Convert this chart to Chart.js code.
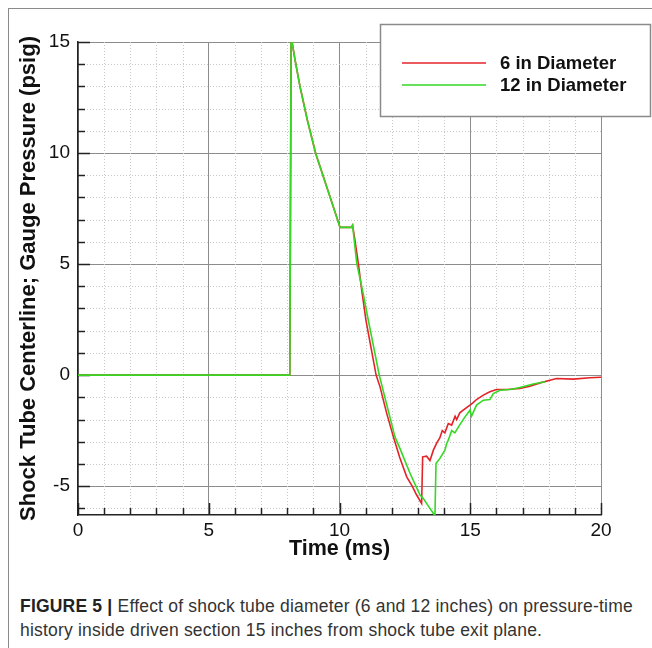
<!DOCTYPE html>
<html>
<head>
<meta charset="utf-8">
<script src="https://cdn.jsdelivr.net/npm/chart.js@4.4.1/dist/chart.umd.min.js"></script>
<style>
  html, body { margin: 0; padding: 0; background: #fff; }
  body { width: 652px; height: 648px; position: relative; overflow: hidden; }
  .frame { position: absolute; left: 8px; top: 8px; right: -4px; bottom: -4px; border-left: 1.5px solid #8a8a8a; border-top: 1.5px solid #8a8a8a; }
  .chart { position: absolute; left: 0; top: 0; width: 652px; height: 565px; }
  .caption { position: absolute; left: 20px; top: 594px; width: 632px; font: 17.5px "Liberation Sans", Arial, sans-serif; letter-spacing: 0.2px; line-height: 24px; color: #333; }
  .caption b { color: #222; }
</style>
</head>
<body>
<div class="frame"></div>
<div class="chart"><canvas id="pressure-chart"></canvas></div>
<div class="caption"><b>FIGURE 5 |</b> Effect of shock tube diameter (6 and 12 inches) on pressure-time history inside driven section 15 inches from shock tube exit plane.</div>
<script>
const seriesLabels = ["6 in Diameter", "12 in Diameter"];
const seriesColors = ["#e42328", "#33d923"];

// 6 in diameter (ms, psig)
const time6 = [0, 8.1, 8.15, 8.3, 8.49, 8.77, 9.09, 9.51, 9.93, 10.02, 10.45, 10.5, 10.59, 10.72, 10.85, 11.01,
  11.4, 11.55, 11.8, 12.06, 12.3, 12.57, 12.78, 12.95, 13.14, 13.18, 13.33, 13.46, 13.59, 13.72, 13.84, 13.93,
  14.03, 14.16, 14.29, 14.42, 14.48, 14.6, 14.73, 14.99, 15.1, 15.24, 15.5, 15.75, 16.0, 16.39, 16.9, 17.28,
  17.67, 18.05, 18.3, 18.94, 19.58, 20];
const pressure6 = [0, 0, 15.25, 14.2, 12.99, 11.49, 9.98, 8.48, 6.98, 6.65, 6.65, 6.75, 6.08, 5.03, 3.83, 2.48,
  0, -0.53, -1.7, -2.78, -3.7, -4.58, -5.0, -5.4, -5.78, -3.68, -3.65, -3.85, -3.38, -3.05, -2.82, -2.5,
  -2.6, -2.18, -2.25, -1.85, -2.0, -1.7, -1.58, -1.35, -1.25, -1.1, -0.9, -0.75, -0.65, -0.65, -0.6, -0.5,
  -0.35, -0.23, -0.15, -0.18, -0.12, -0.1];

// 12 in diameter (ms, psig)
const time12 = [0, 8.1, 8.15, 8.3, 8.49, 8.77, 9.09, 9.51, 9.93, 10.02, 10.45, 10.5, 10.66, 10.9, 11.1, 11.52,
  11.8, 12.12, 12.31, 12.7, 13.08, 13.2, 13.4, 13.59, 13.65, 13.69, 13.84, 14.03, 14.1, 14.16, 14.29, 14.41,
  14.61, 14.8, 14.99, 15.05, 15.24, 15.5, 15.75, 15.88, 16.14, 16.52, 16.9, 17.41, 17.86];
const pressure12 = [0, 0, 15.25, 14.2, 12.99, 11.49, 9.98, 8.48, 6.98, 6.65, 6.65, 6.75, 5.03, 3.7, 2.48, 0,
  -1.3, -2.78, -3.3, -4.43, -5.4, -5.55, -5.9, -6.23, -6.35, -3.98, -3.75, -3.38, -3.08, -2.93, -2.5, -2.6,
  -2.22, -1.88, -1.58, -1.85, -1.35, -1.13, -1.1, -0.83, -0.68, -0.65, -0.56, -0.4, -0.3];

const xTicks = [0, 5, 10, 15, 20];
const yTicks = [-5, 0, 5, 10, 15];

const FONT = '"Liberation Sans", Arial, sans-serif';

const toPoints = (xs, ys) => xs.map((x, i) => ({ x: x, y: ys[i] }));

// dotted minor grid + inward tick marks every 1 unit
const minorGrid = {
  id: "minorGrid",
  beforeDatasetsDraw(chart) {
    const { ctx, chartArea, scales } = chart;
    ctx.save();
    ctx.strokeStyle = "#c8c8c8";
    ctx.lineWidth = 1;
    ctx.setLineDash([1, 2]);
    for (let v = Math.ceil(scales.x.min); v <= scales.x.max; v++) {
      if (v % 5 === 0) continue;
      const px = Math.round(scales.x.getPixelForValue(v)) + 0.5;
      ctx.beginPath();
      ctx.moveTo(px, chartArea.top);
      ctx.lineTo(px, chartArea.bottom);
      ctx.stroke();
    }
    for (let v = Math.ceil(scales.y.min); v <= scales.y.max; v++) {
      if (v % 5 === 0) continue;
      const py = Math.round(scales.y.getPixelForValue(v)) + 0.5;
      ctx.beginPath();
      ctx.moveTo(chartArea.left, py);
      ctx.lineTo(chartArea.right, py);
      ctx.stroke();
    }
    ctx.setLineDash([]);
    ctx.strokeStyle = "#222";
    ctx.lineWidth = 1.5;
    for (let v = Math.ceil(scales.x.min); v <= scales.x.max; v++) {
      const px = Math.round(scales.x.getPixelForValue(v)) + 0.5;
      const len = v % 5 === 0 ? 12 : 7;
      ctx.beginPath();
      ctx.moveTo(px, chartArea.bottom);
      ctx.lineTo(px, chartArea.bottom - len);
      ctx.stroke();
    }
    for (let v = Math.ceil(scales.y.min); v <= scales.y.max; v++) {
      const py = Math.round(scales.y.getPixelForValue(v)) + 0.5;
      const len = v % 5 === 0 ? 12 : 7;
      ctx.beginPath();
      ctx.moveTo(chartArea.left, py);
      ctx.lineTo(chartArea.left + len, py);
      ctx.stroke();
    }
    ctx.restore();
  },
};

// boxed legend sitting in the top right corner
const boxLegend = {
  id: "boxLegend",
  afterDraw(chart) {
    const { ctx } = chart;
    const box = { x: 380.5, y: 24.5, w: 270, h: 92 };
    ctx.save();
    ctx.fillStyle = "#fff";
    ctx.fillRect(box.x, box.y, box.w, box.h);
    ctx.strokeStyle = "#8a8a8a";
    ctx.lineWidth = 1.5;
    ctx.strokeRect(box.x, box.y, box.w, box.h);
    ctx.font = "bold 18.5px " + FONT;
    ctx.textBaseline = "middle";
    chart.data.datasets.forEach((ds, i) => {
      const y = 63 + i * 22;
      ctx.strokeStyle = ds.borderColor;
      ctx.lineWidth = 1.5;
      ctx.beginPath();
      ctx.moveTo(402, y);
      ctx.lineTo(486, y);
      ctx.stroke();
      ctx.fillStyle = "#111";
      ctx.fillText(ds.label, 500, y + 1);
    });
    ctx.restore();
  },
};

new Chart(document.getElementById("pressure-chart"), {
  type: "line",
  data: {
    datasets: [
      {
        label: seriesLabels[0],
        data: toPoints(time6, pressure6),
        borderColor: seriesColors[0],
        borderWidth: 1.6,
        pointRadius: 0,
        tension: 0,
        order: 2,
      },
      {
        label: seriesLabels[1],
        data: toPoints(time12, pressure12),
        borderColor: seriesColors[1],
        borderWidth: 1.6,
        pointRadius: 0,
        tension: 0,
        order: 1,
      },
    ],
  },
  options: {
    responsive: true,
    maintainAspectRatio: false,
    animation: false,
    layout: { padding: { left: 0, right: 51, top: 42, bottom: 0 } },
    plugins: {
      legend: { display: false },
      tooltip: { enabled: false },
    },
    scales: {
      x: {
        type: "linear",
        min: 0,
        max: 20,
        afterBuildTicks: (scale) => {
          scale.ticks = xTicks.map((v) => ({ value: v }));
        },
        afterFit: (scale) => {
          scale.height = 50;
        },
        grid: { color: "#8c8c8c", lineWidth: 1, drawTicks: false },
        border: { color: "#222", width: 1.5 },
        ticks: { color: "#111", padding: 4, maxRotation: 0, font: { family: FONT, size: 19 } },
        title: {
          display: true,
          text: "Time (ms)",
          color: "#111",
          padding: { top: 0, bottom: 3 },
          font: { family: FONT, size: 21.5, weight: "bold" },
        },
      },
      y: {
        min: -6.3,
        max: 15,
        afterBuildTicks: (scale) => {
          scale.ticks = yTicks.map((v) => ({ value: v }));
        },
        afterFit: (scale) => {
          scale.width = 78;
        },
        grid: { color: "#8c8c8c", lineWidth: 1, drawTicks: false },
        border: { color: "#222", width: 1.5 },
        ticks: { color: "#111", padding: 8, font: { family: FONT, size: 19 } },
        title: {
          display: true,
          text: "Shock Tube Centerline; Gauge Pressure (psig)",
          color: "#111",
          padding: { top: 16, bottom: 0 },
          font: { family: FONT, size: 22, weight: "bold" },
        },
      },
    },
  },
  plugins: [minorGrid, boxLegend],
});
</script>
</body>
</html>
